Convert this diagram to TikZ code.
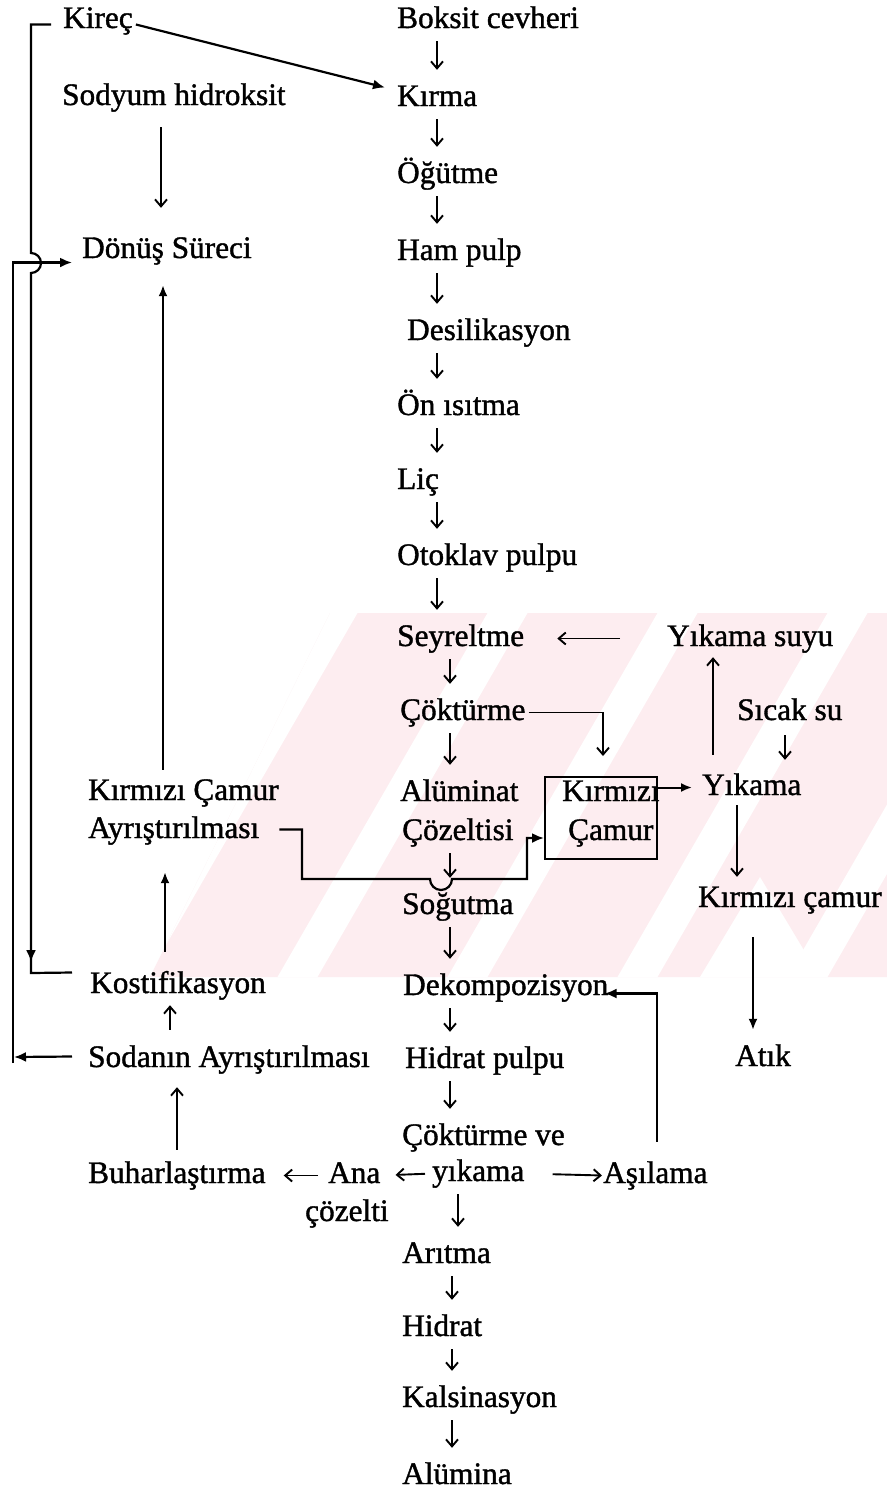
\documentclass[tikz,border=0pt]{standalone}
\usepackage{fontspec}
\setmainfont{Liberation Serif}
\newfontfamily\scanfont{Liberation Serif}[FakeBold=1.2]
\usetikzlibrary{arrows.meta,calc}
\definecolor{wmpink}{RGB}{253,237,240}
\begin{document}
\begin{tikzpicture}[x=1pt,y=-1pt,
  lbl/.style={anchor=base west,inner sep=0pt,font=\scanfont\fontsize{31.3pt}{38pt}\selectfont,text height=22pt,text depth=7pt},
  garr/.style={line width=1.9pt,-{Straight Barb[length=7pt,width=12pt,line width=1.9pt]},shorten <=6pt,shorten >=14pt},
  marr/.style={line width=2pt,-{Latex[length=11pt,width=9pt]}},
  harr/.style={line width=2.2pt,-{Latex[length=12pt,width=10pt]}},
  hline/.style={line width=2.2pt},
  boxst/.style={draw,line width=2pt,minimum width=112pt,minimum height=82pt,inner sep=0pt}]
\fill[white] (0,0) rectangle (887,1500);
\useasboundingbox (0,0) rectangle (887,1500);
% faint watermark
\begin{scope}
\clip (330,613) -- (887,613) -- (887,977) -- (150,977) -- cycle;
\fill[wmpink] (0,600) rectangle (887,990);
\foreach \s in {100,270,440,610,780,950}
  \fill[white] (\s,990) -- ++(40,0) -- ++(225,-390) -- ++(-40,0) -- cycle;
\fill[white] (700,977) -- (760,877) -- (820,977) -- cycle;
\end{scope}
% column coordinates
\coordinate (c437) at (437,0);
\coordinate (c450) at (450,0);
\coordinate (c452) at (452,0);
\coordinate (c458) at (458,0);
\coordinate (c161) at (161,0);
\coordinate (c163) at (163,0);
\coordinate (c165) at (165,0);
\coordinate (c170) at (170,0);
\coordinate (c177) at (177,0);
\coordinate (c657) at (657,0);
\coordinate (c713) at (713,0);
\coordinate (c737) at (737,0);
\coordinate (c753) at (753,0);
\coordinate (c785) at (785,0);
% centre column
\node[lbl] (boksit) at (397,28) {Boksit cevheri};
\node[lbl] (kirma) at (397,106) {Kırma};
\node[lbl] (ogutme) at (397,183) {Öğütme};
\node[lbl] (ham) at (397,260) {Ham pulp};
\node[lbl] (desil) at (407,340) {Desilikasyon};
\node[lbl] (onis) at (397,415) {Ön ısıtma};
\node[lbl] (lic) at (397,489) {Liç};
\node[lbl] (otoklav) at (397,565) {Otoklav pulpu};
\node[lbl] (seyrel) at (397,646) {Seyreltme};
\node[lbl] (coktur) at (400,720) {Çöktürme};
\node[lbl] (alumin) at (400,801) {Alüminat};
\node[lbl] (cozel) at (402,840) {Çözeltisi};
\node[lbl] (sogut) at (402,914) {Soğutma};
\node[lbl] (dekomp) at (403,995) {Dekompozisyon};
\node[lbl] (hidpulp) at (405,1068) {Hidrat pulpu};
\node[lbl] (coktve) at (402,1145) {Çöktürme ve};
\node[lbl] (yik2) at (432,1181) {yıkama};
\node[lbl] (aritma) at (402,1263) {Arıtma};
\node[lbl] (hidrat) at (402,1336) {Hidrat};
\node[lbl] (kalsin) at (402,1407) {Kalsinasyon};
\node[lbl] (alumina) at (402,1484) {Alümina};
% left column
\node[lbl] (kirec) at (63,28) {Kireç};
\node[lbl] (sodyum) at (62,105) {Sodyum hidroksit};
\node[lbl] (donus) at (82,258) {Dönüş Süreci};
\node[lbl] (kca1) at (88,800) {Kırmızı Çamur};
\node[lbl] (kca2) at (88,838) {Ayrıştırılması};
\node[lbl] (kostif) at (90,993) {Kostifikasyon};
\node[lbl] (soda) at (88,1067) {Sodanın Ayrıştırılması};
\node[lbl] (buhar) at (88,1183) {Buharlaştırma};
\node[lbl] (ana) at (328,1183) {Ana};
\node[lbl] (cozelti) at (305,1221) {çözelti};
% right column
\node[lbl] (yiksu) at (667,646) {Yıkama suyu};
\node[lbl] (sicak) at (737,720) {Sıcak su};
\node[lbl] (yikama) at (702,795) {Yıkama};
\node[lbl] (kcamur) at (698,907) {Kırmızı çamur};
\node[lbl] (atik) at (735,1066) {Atık};
\node[lbl] (asilama) at (603,1183) {Aşılama};
% box
\node[boxst] (kcbox) at (601,818) {};
\node[lbl] (kcb1) at (562,801) {Kırmızı};
\node[lbl] (kcb2) at (568,840) {Çamur};
% centre arrows
\foreach \a/\b in {boksit/kirma,kirma/ogutme,ogutme/ham,ham/desil,desil/onis,onis/lic,lic/otoklav,otoklav/seyrel}
  \draw[garr] (\a.south -| c437) -- (\b.north -| c437);
\foreach \a/\b in {seyrel/coktur,coktur/alumin,cozel/sogut,sogut/dekomp,dekomp/hidpulp,hidpulp/coktve}
  \draw[garr] (\a.south -| c450) -- (\b.north -| c450);
\draw[garr] (yik2.south -| c458) -- (aritma.north -| c458);
\foreach \a/\b in {aritma/hidrat,hidrat/kalsin,kalsin/alumina}
  \draw[garr] (\a.south -| c452) -- (\b.north -| c452);
% bottom row horizontal arrows
\draw[garr,shorten <=10pt,shorten >=18pt] (ana.west) -- (buhar.east);
\draw[garr,shorten <=7pt,shorten >=15pt] (yik2.west) -- (ana.east);
\draw[garr,shorten <=28pt,shorten >=1pt] (yik2.east) -- (asilama.west);
% Asilama -> Dekompozisyon
\draw[harr] ($(asilama.north -| c657)+(0,-19)$) -- ($(dekomp.east -| c657)+(0,6)$) -- ($(dekomp.east)+(-4,6)$);
% Yikama suyu -> Seyreltme
\draw[garr,shorten <=47pt,shorten >=33pt] (yiksu.west) -- (seyrel.east);
% Cokturme -> box
\draw[garr,shorten <=3pt,shorten >=0pt] (coktur.east) -| ($(kcbox.north)+(2,-20)$);
% box -> Yikama
\draw[marr,shorten >=10pt] (kcbox.east |- yikama.west) -- (yikama.west);
% Yikama -> Yikama suyu
\draw[garr,shorten <=18pt,shorten >=4pt] (yikama.north -| c713) -- (yiksu.south -| c713);
% Sicak su -> Yikama
\draw[garr,shorten <=8pt,shorten >=13pt] (sicak.south -| c785) -- (yikama.north -| c785);
% Yikama -> Kirmizi camur
\draw[garr,shorten <=3pt,shorten >=8pt] (yikama.south -| c737) -- (kcamur.north -| c737);
% Kirmizi camur -> Atik
\draw[marr,shorten <=23pt,shorten >=14pt] (kcamur.south -| c753) -- (atik.north -| c753);
% Kirec -> Kirma
\draw[harr] ($(kirec.east)+(3,4)$) -- ($(kirma.west)+(-12,-11)$);
% Sodyum hidroksit -> Donus
\draw[garr,shorten <=15pt,shorten >=28pt] (sodyum.south -| c161) -- (donus.north -| c161);
% KCA -> Donus
\draw[marr,shorten <=8pt,shorten >=20pt] (kca1.north -| c163) -- (donus.south -| c163);
% Kostifikasyon -> KCA
\draw[marr,shorten <=19pt,shorten >=27pt] (kostif.north -| c165) -- (kca2.south -| c165);
% Sodanin -> Kostifikasyon
\draw[garr,shorten <=15pt,shorten >=5pt] (soda.north -| c170) -- (kostif.south -| c170);
% Buharlastirma -> Sodanin
\draw[garr,shorten <=11pt,shorten >=13pt] (buhar.north -| c177) -- (soda.south -| c177);
% KCA -> box with hop
\draw[harr] ($(kca2.east)+(20,-1)$) -| (302,879) -- (430,879)
  arc[start angle=180,end angle=360,radius=11pt] -- (527,879) |- ($(kcbox.west)+(0,20)$);
% Kirec -> Kostifikasyon (line A)
\coordinate (A3) at (31,962);
\draw[harr] ($(kirec.west)+(-12,4)$) -| (31,253)
  arc[start angle=90,end angle=-90,radius=10pt] -- (A3);
\draw[hline] (31,955) -- (31,973) -- ($(kostif.west)+(-18,-13)$);
% Sodanin -> Donus (line B)
\coordinate (B1) at (14,1057);
\draw[harr] ($(soda.west)+(-16,-3)$) -- (B1);
\draw[harr] (13,1063) |- ($(donus.west)+(-10,12)$);
\end{tikzpicture}
\end{document}
